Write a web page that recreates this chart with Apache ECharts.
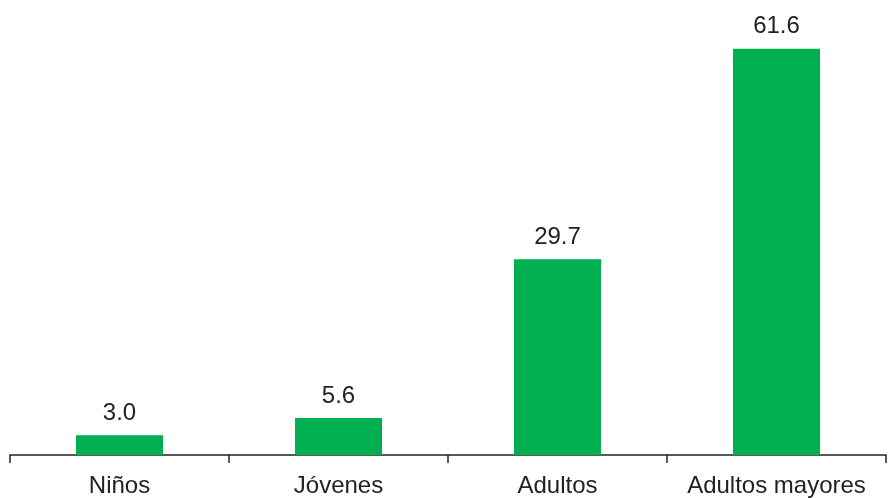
<!DOCTYPE html>
<html><head><meta charset="utf-8">
<script src="https://cdn.jsdelivr.net/npm/echarts@6/dist/echarts.min.js"></script>
<style>html,body{margin:0;padding:0;background:#fff}#c{width:891px;height:498px}</style>
</head><body><div id="c"></div>
<script>
const categories = ["Niños", "Jóvenes", "Adultos", "Adultos mayores"];
const values = [3.0, 5.6, 29.7, 61.6];

const chart = echarts.init(document.getElementById('c'));
chart.setOption({
  animation: false,
  grid: { left: 10, right: 5, top: 0, bottom: 43 },
  xAxis: {
    type: 'category',
    data: categories,
    boundaryGap: true,
    axisLine: { lineStyle: { color: '#222', width: 1.5 } },
    axisTick: { show: true, interval: 0, length: 8, alignWithLabel: false, lineStyle: { color: '#222', width: 1.5 } },
    axisLabel: { interval: 0, hideOverlap: false, fontFamily: 'Liberation Sans, Arial', fontSize: 24, color: '#222', margin: 19 }
  },
  yAxis: {
    type: 'value', min: 0, max: 69,
    show: false, splitLine: { show: false }
  },
  series: [{
    type: 'bar',
    data: values,
    barWidth: 87,
    itemStyle: { color: '#00B050' },
    label: {
      show: true, position: 'top', distance: 10,
      fontFamily: 'Liberation Sans, Arial', fontSize: 24, color: '#222',
      formatter: p => p.value.toFixed(1)
    }
  }]
});
</script></body></html>
